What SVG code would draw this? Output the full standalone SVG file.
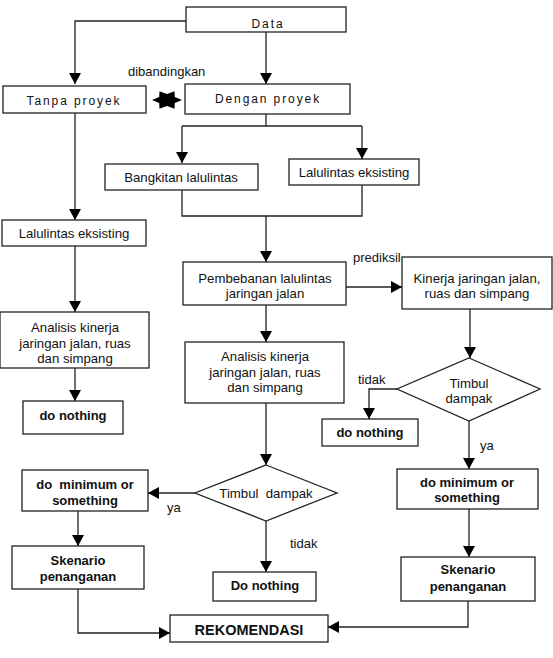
<svg xmlns="http://www.w3.org/2000/svg" width="553" height="658" viewBox="0 0 553 658">
<style>
.box{fill:#fff;stroke:#222;stroke-width:1.3}
.t{font-family:"Liberation Sans",Arial,sans-serif;font-size:13.2px;fill:#111;text-anchor:middle}
.ls{font-size:12px;letter-spacing:1.9px}
.b{font-weight:bold;font-size:13px}
.lbl{font-family:"Liberation Sans",Arial,sans-serif;font-size:13px;fill:#111}
.c{fill:none;stroke:#222;stroke-width:1.3}
</style>
<defs>
<marker id="ah" markerUnits="userSpaceOnUse" markerWidth="14" markerHeight="14" refX="11" refY="6" orient="auto">
<path d="M0,0 L11,6 L0,12 Z" fill="#000"/>
</marker>
</defs>
<rect width="553" height="658" fill="#fff"/>
<g id="connectors">
<path class="c" d="M186,21 H75 V84" marker-end="url(#ah)"/>
<path class="c" d="M266,32 V84" marker-end="url(#ah)"/>
<path class="c" d="M266,114 V126 M182,126 H362"/>
<path class="c" d="M182,126 V163" marker-end="url(#ah)"/>
<path class="c" d="M362,126 V159" marker-end="url(#ah)"/>
<path class="c" d="M182,190 V216 H362 V185"/>
<path class="c" d="M266,216 V262" marker-end="url(#ah)"/>
<path class="c" d="M75,113 V220" marker-end="url(#ah)"/>
<path class="c" d="M75,246 V312" marker-end="url(#ah)"/>
<path class="c" d="M75,368 V401" marker-end="url(#ah)"/>
<path class="c" d="M346,287 H402" marker-end="url(#ah)"/>
<path class="c" d="M266,305 V342" marker-end="url(#ah)"/>
<path class="c" d="M470,309 V358" marker-end="url(#ah)"/>
<path class="c" d="M397,389 H369 V419" marker-end="url(#ah)"/>
<path class="c" d="M469,421 V469" marker-end="url(#ah)"/>
<path class="c" d="M469,509 V557" marker-end="url(#ah)"/>
<path class="c" d="M468,601 V627 H328" marker-end="url(#ah)"/>
<path class="c" d="M266,403 V465" marker-end="url(#ah)"/>
<path class="c" d="M195,493 H148" marker-end="url(#ah)"/>
<path class="c" d="M78,511 V546" marker-end="url(#ah)"/>
<path class="c" d="M78,589 V633 H170" marker-end="url(#ah)"/>
<path class="c" d="M266,521 V572" marker-end="url(#ah)"/>
<polygon id="compare" points="182,100 174.8,97 174.5,91.3 167,94 159.5,91.3 159.2,97 152,100 159.2,103 159.5,108.7 167,106 174.5,108.7 174.8,103" fill="#000"/>
</g>
<text class="lbl" x="128" y="76">dibandingkan</text>
<text class="lbl" x="353" y="262">prediksil</text>
<text class="lbl" x="358" y="384">tidak</text>
<text class="lbl" x="480" y="450">ya</text>
<text class="lbl" x="167" y="512">ya</text>
<text class="lbl" x="290" y="548">tidak</text>
<g id="data"><rect class="box" x="186" y="7" width="160" height="25"/><text class="t ls" x="268" y="28">Data</text></g>
<g id="tanpa"><rect class="box" x="3" y="86" width="143" height="27"/><text class="t ls" x="74" y="105">Tanpa proyek</text></g>
<g id="dengan"><rect class="box" x="185" y="84" width="165" height="30"/><text class="t ls" x="268" y="103">Dengan proyek</text></g>
<g id="bangkitan"><rect class="box" x="105" y="164" width="153" height="26"/><text class="t" x="181" y="182">Bangkitan lalulintas</text></g>
<g id="eksisting2"><rect class="box" x="289" y="159" width="130" height="26"/><text class="t" x="354" y="177">Lalulintas eksisting</text></g>
<g id="eksisting1"><rect class="box" x="2" y="220" width="144" height="26"/><text class="t" x="74" y="238">Lalulintas eksisting</text></g>
<g id="analisis1"><rect class="box" x="0" y="312" width="149" height="56"/><text class="t" x="75" y="332">Analisis kinerja</text><text class="t" x="75" y="348">jaringan jalan, ruas</text><text class="t" x="75" y="363">dan simpang</text></g>
<g id="nothing1"><rect class="box" x="23" y="401" width="100" height="33"/><text class="t b" x="73" y="420">do nothing</text></g>
<g id="pembebanan"><rect class="box" x="183" y="262" width="163" height="43"/><text class="t" x="265" y="283">Pembebanan lalulintas</text><text class="t" x="265" y="298">jaringan jalan</text></g>
<g id="kinerja"><rect class="box" x="402" y="257" width="150" height="52"/><text class="t" x="477" y="283">Kinerja jaringan jalan,</text><text class="t" x="477" y="298">ruas dan simpang</text></g>
<g id="analisis2"><rect class="box" x="185" y="342" width="159" height="61"/><text class="t" x="265" y="361">Analisis kinerja</text><text class="t" x="265" y="377">jaringan jalan, ruas</text><text class="t" x="265" y="392">dan simpang</text></g>
<g id="timbul1"><polygon class="box" points="469,358 540,389 469,421 397,389"/><text class="t" x="469" y="388">Timbul</text><text class="t" x="469" y="403">dampak</text></g>
<g id="nothing2"><rect class="box" x="322" y="419" width="96" height="27"/><text class="t b" x="370" y="437">do nothing</text></g>
<g id="dominimum2"><rect class="box" x="397" y="469" width="141" height="40"/><text class="t b" x="467" y="487">do minimum or</text><text class="t b" x="467" y="502">something</text></g>
<g id="skenario2"><rect class="box" x="401" y="557" width="134" height="44"/><text class="t b" x="468" y="574">Skenario</text><text class="t b" x="468" y="591">penanganan</text></g>
<g id="timbul2"><polygon class="box" points="266,465 337,493 266,521 195,493"/><text class="t" x="266" y="498" style="white-space:pre" xml:space="preserve">Timbul  dampak</text></g>
<g id="dominimum1"><rect class="box" x="22" y="470" width="126" height="41"/><text class="t b" x="85" y="489" xml:space="preserve">do  minimum or</text><text class="t b" x="85" y="505">something</text></g>
<g id="skenario1"><rect class="box" x="12" y="546" width="132" height="43"/><text class="t b" x="78" y="565">Skenario</text><text class="t b" x="78" y="581">penanganan</text></g>
<g id="nothing3"><rect class="box" x="213" y="572" width="103" height="29"/><text class="t b" x="265" y="590">Do nothing</text></g>
<g id="rekomendasi"><rect class="box" x="170" y="615" width="158" height="27"/><text class="t b" x="249" y="635" style="font-size:14.5px">REKOMENDASI</text></g>
</svg>
